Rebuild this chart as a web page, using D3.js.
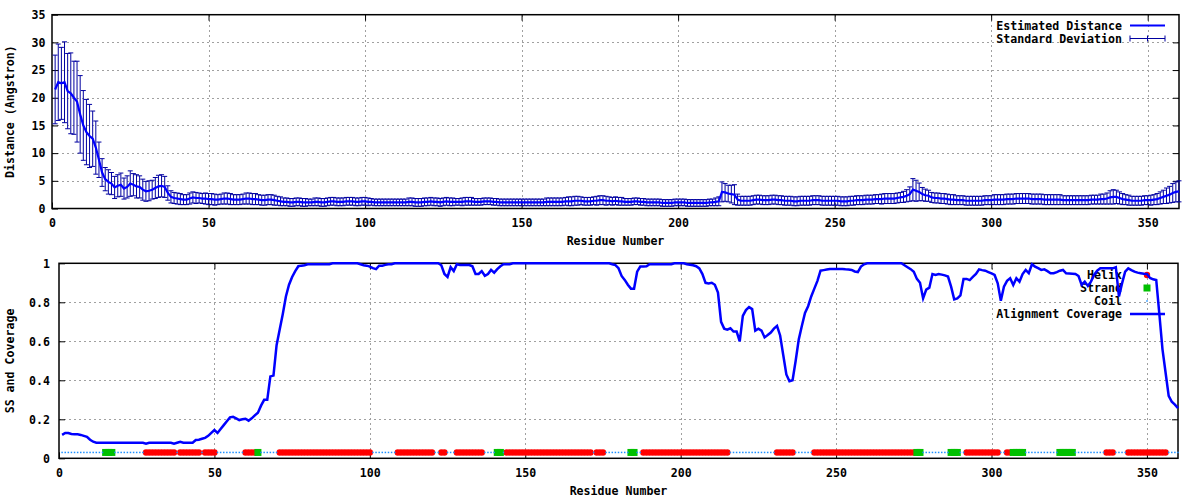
<!DOCTYPE html>
<html><head><meta charset="utf-8">
<script src="https://cdn.jsdelivr.net/npm/d3@7"></script>
<style>
body{margin:0;background:#fff;}
svg text{font-family:"DejaVu Sans Mono","Liberation Mono",monospace;font-weight:bold;font-size:11.6px;fill:#000;}
</style></head><body>
<svg id="c" width="1200" height="500"></svg>
<script>
// ---------------- data ----------------
const residueCount = 360;
const xTicks = [0,50,100,150,200,250,300,350];
const distTicks = [0,5,10,15,20,25,30,35];
const covTicks = [0,0.2,0.4,0.6,0.8,1];

const distance = [
21.5,22.8,22.6,22.8,21.2,20.8,20.0,19.3,17.0,15.0,
13.8,13.1,12.6,11.0,8.8,6.5,5.3,4.8,4.5,3.8,
4.1,4.3,3.6,3.9,4.5,4.3,4.0,3.9,3.4,3.1,
3.2,3.4,3.7,4.0,4.1,3.9,2.8,2.1,1.9,1.8,
1.7,1.6,1.6,1.8,2.0,1.9,1.9,1.8,1.8,1.7,
1.7,1.6,1.6,1.7,1.8,1.8,1.7,1.6,1.6,1.6,
1.7,1.8,1.8,1.7,1.7,1.6,1.5,1.5,1.6,1.6,
1.5,1.4,1.3,1.2,1.2,1.1,1.1,1.2,1.2,1.1,
1.1,1.1,1.1,1.2,1.2,1.1,1.1,1.2,1.3,1.3,
1.2,1.2,1.2,1.3,1.3,1.3,1.2,1.2,1.3,1.3,
1.2,1.2,1.1,1.1,1.1,1.1,1.1,1.1,1.1,1.1,
1.1,1.1,1.1,1.2,1.2,1.1,1.1,1.1,1.2,1.2,
1.3,1.2,1.2,1.1,1.2,1.3,1.2,1.2,1.2,1.2,
1.2,1.3,1.3,1.3,1.2,1.2,1.2,1.3,1.3,1.3,
1.2,1.2,1.1,1.1,1.1,1.1,1.1,1.1,1.1,1.1,
1.1,1.1,1.1,1.1,1.1,1.1,1.1,1.2,1.2,1.2,
1.2,1.2,1.2,1.3,1.3,1.3,1.4,1.4,1.4,1.3,
1.3,1.3,1.4,1.4,1.5,1.5,1.4,1.4,1.3,1.4,
1.3,1.3,1.2,1.2,1.2,1.3,1.3,1.2,1.2,1.1,
1.1,1.1,1.1,1.1,1.0,1.0,1.0,1.0,1.1,1.1,
1.1,1.1,1.0,1.0,1.0,1.0,1.0,1.0,1.0,1.1,
1.1,1.2,1.3,3.0,2.9,2.7,2.6,2.5,1.6,1.4,
1.4,1.4,1.4,1.5,1.6,1.6,1.5,1.5,1.5,1.6,
1.6,1.5,1.5,1.4,1.4,1.4,1.3,1.3,1.4,1.4,
1.4,1.4,1.5,1.5,1.5,1.4,1.4,1.4,1.4,1.4,
1.4,1.3,1.3,1.3,1.4,1.4,1.5,1.5,1.5,1.6,
1.6,1.6,1.7,1.7,1.7,1.8,1.8,1.8,1.8,1.9,
2.0,2.1,2.3,2.6,3.4,3.2,3.0,2.6,2.4,2.3,
2.0,1.9,1.9,1.8,1.8,1.7,1.6,1.6,1.5,1.5,
1.5,1.4,1.4,1.4,1.4,1.4,1.4,1.5,1.5,1.5,
1.6,1.6,1.6,1.6,1.7,1.7,1.7,1.8,1.8,1.8,
1.8,1.8,1.7,1.7,1.7,1.7,1.6,1.6,1.6,1.6,
1.6,1.6,1.5,1.5,1.5,1.5,1.5,1.5,1.5,1.5,
1.5,1.6,1.6,1.6,1.7,1.7,1.8,2.0,2.1,2.1,
1.9,1.7,1.6,1.5,1.4,1.4,1.4,1.4,1.5,1.5,
1.5,1.6,1.7,1.9,2.1,2.3,2.5,2.8,3.0,3.1];

const stdDev = [
6.2,6.9,6.5,7.3,6.8,7.3,6.6,7.3,7.0,6.3,
5.9,5.7,5.0,4.8,3.2,2.5,2.1,2.2,2.0,2.0,
2.0,2.1,1.9,2.0,2.3,2.0,2.1,2.0,1.9,1.8,
1.8,1.7,1.9,2.0,2.0,1.9,1.3,1.1,1.0,1.0,
1.0,0.9,0.9,1.0,1.0,1.0,0.9,0.9,1.0,1.0,
1.0,1.0,0.9,0.9,1.0,1.0,1.0,0.9,0.9,0.9,
0.9,1.0,1.0,1.0,1.0,0.9,0.9,0.9,0.9,0.9,
0.9,0.8,0.8,0.7,0.7,0.7,0.7,0.7,0.7,0.7,
0.7,0.6,0.6,0.7,0.7,0.7,0.7,0.7,0.7,0.7,
0.7,0.7,0.7,0.7,0.7,0.7,0.7,0.7,0.7,0.7,
0.7,0.6,0.6,0.6,0.6,0.6,0.6,0.6,0.6,0.6,
0.6,0.6,0.6,0.7,0.7,0.7,0.7,0.7,0.7,0.7,
0.7,0.7,0.7,0.7,0.7,0.7,0.7,0.7,0.6,0.6,
0.7,0.7,0.7,0.7,0.6,0.6,0.6,0.6,0.6,0.6,
0.6,0.6,0.6,0.6,0.6,0.6,0.6,0.6,0.6,0.6,
0.6,0.6,0.6,0.6,0.6,0.6,0.6,0.7,0.7,0.7,
0.7,0.7,0.7,0.7,0.8,0.8,0.8,0.8,0.7,0.7,
0.7,0.7,0.7,0.8,0.8,0.8,0.8,0.7,0.7,0.7,
0.7,0.7,0.6,0.6,0.6,0.6,0.6,0.6,0.6,0.6,
0.6,0.6,0.6,0.6,0.6,0.6,0.6,0.6,0.6,0.6,
0.6,0.6,0.6,0.6,0.6,0.6,0.6,0.6,0.6,0.6,
0.6,0.7,0.8,1.8,1.6,1.5,1.6,1.8,1.0,0.8,
0.8,0.8,0.8,0.8,0.8,0.8,0.8,0.8,0.8,0.8,
0.8,0.8,0.8,0.8,0.8,0.8,0.8,0.8,0.8,0.8,
0.8,0.8,0.8,0.8,0.8,0.8,0.8,0.8,0.8,0.8,
0.8,0.8,0.8,0.8,0.8,0.8,0.8,0.8,0.8,0.8,
0.8,0.8,0.8,0.8,0.9,0.9,0.9,0.9,0.9,0.9,
0.9,1.0,1.1,1.3,2.0,1.9,1.6,1.2,1.1,1.0,
0.9,0.9,0.9,0.9,0.9,0.9,0.9,0.9,0.8,0.8,
0.8,0.8,0.8,0.8,0.8,0.8,0.8,0.8,0.8,0.8,
0.9,0.9,0.9,0.9,0.9,0.9,0.9,0.9,0.9,0.9,
0.9,0.9,0.9,0.9,0.9,0.9,0.9,0.9,0.9,0.9,
0.9,0.9,0.8,0.8,0.8,0.8,0.8,0.8,0.8,0.8,
0.8,0.8,0.8,0.8,0.9,0.9,1.0,1.2,1.3,1.2,
1.1,1.0,0.9,0.9,0.8,0.8,0.8,0.8,0.8,0.8,
0.9,0.9,1.0,1.1,1.2,1.4,1.5,1.7,1.8,1.9];

const coverage = [
.12,.13,.13,.125,.123,.123,.12,.115,.11,.095,
.085,.08,.08,.08,.08,.08,.08,.08,.08,.08,
.08,.08,.08,.08,.08,.08,.08,.075,.08,.08,
.08,.08,.08,.08,.08,.08,.075,.08,.085,.08,
.08,.08,.08,.094,.095,.1,.105,.115,.13,.145,
.13,.15,.17,.19,.21,.213,.205,.196,.2,.203,
.193,.205,.22,.234,.27,.3,.3,.42,.424,.58,
.66,.74,.83,.89,.93,.96,.985,.988,.99,.995,
.995,.995,.995,.995,.995,.995,.995,1,1,1,
1,1,1,1,1,1,.995,.99,.988,.983,
.975,.97,.988,.988,.992,.995,.995,1,1,1,
1,1,1,1,1,1,1,1,1,1,
1,1,.99,.945,.93,.98,.96,.995,.991,.991,
.991,.991,.985,.945,.945,.96,.936,.945,.966,.952,
.97,.985,.995,.995,.995,1,1,1,1,1,
1,1,1,1,1,1,1,1,1,1,
1,1,1,1,1,1,1,1,1,1,
1,1,1,1,1,1,1,.995,.991,.975,
.935,.915,.89,.87,.87,.957,.983,.983,.985,.995,
.995,.995,.995,.995,.995,.995,.995,1,1,1,
1,.995,.993,.99,.985,.974,.945,.9,.897,.9,
.89,.85,.7,.665,.66,.667,.65,.65,.6,.73,
.76,.775,.765,.655,.665,.655,.62,.632,.645,.665,
.679,.63,.53,.43,.395,.4,.5,.61,.68,.745,
.78,.83,.87,.91,.962,.965,.968,.971,.971,.971,
.971,.971,.969,.968,.966,.958,.955,.983,.995,1,
1,1,1,1,1,1,1,1,1,1,
1,.99,.98,.97,.957,.92,.9,.82,.865,.875,
.945,.94,.945,.942,.938,.932,.88,.815,.82,.835,
.92,.92,.914,.93,.945,.969,.965,.962,.955,.948,
.94,.897,.808,.88,.91,.923,.889,.923,.906,.945,
.966,.949,.995,.983,.975,.966,.969,.96,.949,.949,
.955,.962,.966,.949,.948,.947,.945,.935,.889,.906,
.884,.906,.94,.962,.974,.974,.974,.974,.974,.98,
.83,.897,.957,.974,.965,.957,.952,.949,.946,.945,
.925,.918,.914,.74,.56,.44,.32,.29,.275,.257];

// secondary structure segments [first residue, last residue]
const helixSegments = [[28,37],[39,45],[47,50],[60,63],[71,100],[109,120],[123,124],[128,136],[144,171],[173,175],[188,215],[231,236],[243,275],[292,302],[305,306],[337,339],[344,356]];
const strandSegments = [[15,17],[64,64],[141,142],[184,185],[276,277],[287,289],[307,310],[322,326]];
const ssLevel = 0.03;

// ---------------- build rows ----------------
const residues = distance.map((d,i)=>i+1);
const ss = residues.map(r=>{
  if (helixSegments.some(s=>r>=s[0]&&r<=s[1])) return "H";
  if (strandSegments.some(s=>r>=s[0]&&r<=s[1])) return "E";
  return "C";
});

const svg = d3.select("#c");
const gridColor = "#a0a0a0";

function frame(g, x, y, xt, yt, yFmt, yPad){
  const [x0,x1] = x.range(); const [y0,y1] = y.range();
  // grid
  g.append("g").selectAll("line").data(xt.filter(t=>t>x.domain()[0]&&t<x.domain()[1])).join("line")
    .attr("x1",d=>Math.round(x(d))+0.5).attr("x2",d=>Math.round(x(d))+0.5).attr("y1",y1).attr("y2",y0)
    .attr("stroke",gridColor).attr("stroke-dasharray","2,3").attr("shape-rendering","crispEdges");
  g.append("g").selectAll("line").data(yt.filter(t=>t>y.domain()[0]&&t<y.domain()[1])).join("line")
    .attr("y1",d=>Math.round(y(d))+0.5).attr("y2",d=>Math.round(y(d))+0.5).attr("x1",x0).attr("x2",x1)
    .attr("stroke",gridColor).attr("stroke-dasharray","2,3").attr("shape-rendering","crispEdges");
  // axes (ticks inward, mirrored)
  const ab = g.append("g").attr("transform",`translate(0,${y0})`)
    .call(d3.axisBottom(x).tickValues(xt).tickSize(-6).tickPadding(10.3).tickFormat(d3.format("d")));
  const at = g.append("g").attr("transform",`translate(0,${y1})`)
    .call(d3.axisTop(x).tickValues(xt.filter(t=>t>0)).tickSize(-6).tickFormat(""));
  const al = g.append("g").attr("transform",`translate(${x0},0)`)
    .call(d3.axisLeft(y).tickValues(yt).tickSize(-6).tickPadding(yPad).tickFormat(yFmt));
  const ar = g.append("g").attr("transform",`translate(${x1},0)`)
    .call(d3.axisRight(y).tickValues(yt.filter(t=>t>y.domain()[0]&&t<y.domain()[1])).tickSize(-6).tickFormat(""));
  [ab,at,al,ar].forEach(a=>{
    a.select(".domain").remove();
    a.selectAll("line").attr("stroke","#000").attr("stroke-width",1);
    a.selectAll("text").attr("fill","#000").style("font-family",null).style("font-size",null);
    a.attr("font-family",null).attr("font-size",null);
  });
  // border
  g.append("rect").attr("x",x0).attr("y",y1).attr("width",x1-x0).attr("height",y0-y1)
    .attr("fill","none").attr("stroke","#000").attr("stroke-width",1.5);
}

// ---------------- top panel ----------------
const xTop = d3.scaleLinear().domain([0,residueCount]).range([52,1179]);
const yTop = d3.scaleLinear().domain([0,35]).range([208.5,14.7]);
const gTop = svg.append("g");
frame(gTop, xTop, yTop, xTicks, distTicks, d3.format("d"), 6.5);

// error bars
const eb = gTop.append("g").attr("stroke","#0000a0").attr("stroke-width",1);
residues.forEach((r,i)=>{
  const x = xTop(r), lo = yTop(distance[i]-stdDev[i]), hi = yTop(distance[i]+stdDev[i]);
  eb.append("line").attr("x1",x).attr("x2",x).attr("y1",lo).attr("y2",hi);
  eb.append("line").attr("x1",x-2.5).attr("x2",x+2.5).attr("y1",hi).attr("y2",hi);
  eb.append("line").attr("x1",x-2.5).attr("x2",x+2.5).attr("y1",lo).attr("y2",lo);
});
gTop.append("path").datum(residues)
  .attr("d",d3.line().x(r=>xTop(r)).y((r,i)=>yTop(distance[i])))
  .attr("fill","none").attr("stroke","#0000ff").attr("stroke-width",2.2);

// top legend
const lgx = 1122, lx0 = 1130, lx1 = 1165;
gTop.append("text").attr("x",lgx).attr("y",25.5).attr("dy","0.36em").attr("text-anchor","end").text("Estimated Distance");
gTop.append("line").attr("x1",lx0).attr("x2",lx1).attr("y1",25.5).attr("y2",25.5).attr("stroke","#0000ff").attr("stroke-width",2.2);
gTop.append("text").attr("x",lgx).attr("y",38.5).attr("dy","0.36em").attr("text-anchor","end").text("Standard Deviation");
const sdl = gTop.append("g").attr("stroke","#0000a0").attr("stroke-width",1);
sdl.append("line").attr("x1",lx0).attr("x2",lx1).attr("y1",38.5).attr("y2",38.5);
[lx0,(lx0+lx1)/2,lx1].forEach(x=>sdl.append("line").attr("x1",x).attr("x2",x).attr("y1",35.5).attr("y2",41.5));

// top axis titles
gTop.append("text").attr("x",615.5).attr("y",241).attr("dy","0.36em").attr("text-anchor","middle").text("Residue Number");
gTop.append("text").attr("transform","translate(10,111.7) rotate(-90)").attr("dy","0.36em").attr("text-anchor","middle").text("Distance (Angstron)");

// ---------------- bottom panel ----------------
const xBot = d3.scaleLinear().domain([0,residueCount]).range([59,1178]);
const yBot = d3.scaleLinear().domain([0,1]).range([458.3,263.3]);
const gBot = svg.append("g");
frame(gBot, xBot, yBot, xTicks, covTicks, d => d===0||d===1 ? String(d) : d.toFixed(1), 9);

// legend texts (drawn before data as in the reference)
const leg = [["Helix",275],["Strand",288],["Coil",301],["Alignment Coverage",314]];
leg.forEach(([t,y])=>gBot.append("text").attr("x",lgx).attr("y",y).attr("dy","0.36em").attr("text-anchor","end").text(t));

// helix
const yss = yBot(ssLevel);
gBot.append("g").attr("fill","#ff0000").selectAll("circle")
  .data(residues.filter((r,i)=>ss[i]==="H")).join("circle")
  .attr("cx",r=>xBot(r)).attr("cy",yss).attr("r",3.2);
gBot.append("circle").attr("cx",1147).attr("cy",275).attr("r",3.2).attr("fill","#ff0000");
// strand
gBot.append("g").attr("fill","#00c000").selectAll("rect")
  .data(residues.filter((r,i)=>ss[i]==="E")).join("rect")
  .attr("x",r=>xBot(r)-3.5).attr("y",yss-3.5).attr("width",7).attr("height",7);
gBot.append("rect").attr("x",1143.5).attr("y",284.5).attr("width",7).attr("height",7).attr("fill","#00c000");
// coil
gBot.append("g").attr("fill","#1e90ff").selectAll("rect")
  .data(residues.filter((r,i)=>ss[i]==="C")).join("rect")
  .attr("x",r=>xBot(r)-0.75).attr("y",yss-0.75).attr("width",1.5).attr("height",1.5);
gBot.append("rect").attr("x",1146.25).attr("y",300.25).attr("width",1.5).attr("height",1.5).attr("fill","#1e90ff");
// coverage
gBot.append("line").attr("x1",lx0).attr("x2",lx1).attr("y1",314).attr("y2",314).attr("stroke","#0000ff").attr("stroke-width",2.5);
gBot.append("path").datum(residues)
  .attr("d",d3.line().x(r=>xBot(r)).y((r,i)=>yBot(coverage[i])))
  .attr("fill","none").attr("stroke","#0000ff").attr("stroke-width",2.5);

// bottom axis titles
gBot.append("text").attr("x",618.5).attr("y",491).attr("dy","0.36em").attr("text-anchor","middle").text("Residue Number");
gBot.append("text").attr("transform","translate(10,361) rotate(-90)").attr("dy","0.36em").attr("text-anchor","middle").text("SS and Coverage");
</script>
</body></html>
